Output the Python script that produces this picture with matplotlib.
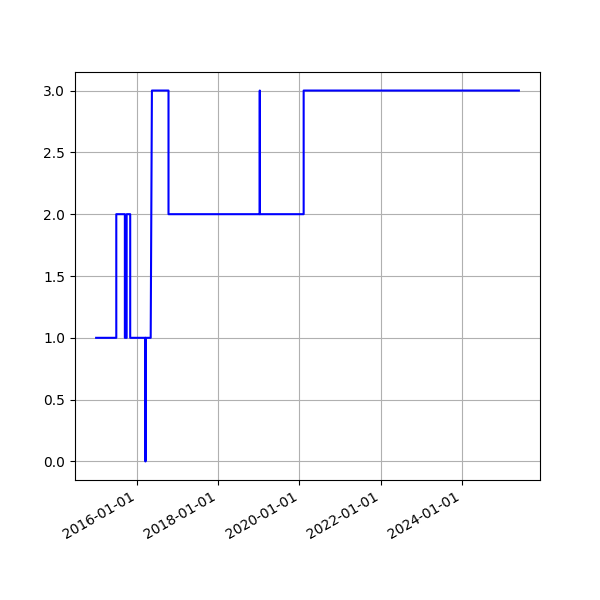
import pandas as pd
import matplotlib
matplotlib.use("Agg")
import matplotlib.pyplot as plt
import matplotlib.dates as mdates

# change points of the series
dates = [
    "2015-01-01", "2015-07-01", "2015-07-01", "2015-09-16", "2015-09-16",
    "2015-10-02", "2015-10-02", "2015-11-03", "2015-11-03", "2016-03-19",
    "2016-03-19", "2016-03-20", "2016-05-05", "2016-05-16", "2016-10-12",
    "2016-10-12", "2019-01-09", "2019-01-10", "2019-01-11", "2020-02-08",
    "2020-02-08", "2025-05-25",
]
values = [
    1, 1, 2, 2, 1,
    1, 2, 2, 1, 1,
    0, 1, 1, 3, 3,
    2, 2, 3, 2, 2,
    3, 3,
]


def main():
    x = pd.to_datetime(dates)
    fig, ax = plt.subplots(figsize=(6, 6), dpi=100)
    ax.plot(x, values, color="blue")
    ax.grid(True)
    ax.xaxis.set_major_formatter(mdates.DateFormatter("%Y-%m-%d"))
    fig.autofmt_xdate()
    fig.savefig("out.png")
    plt.close(fig)


if __name__ == "__main__":
    main()
